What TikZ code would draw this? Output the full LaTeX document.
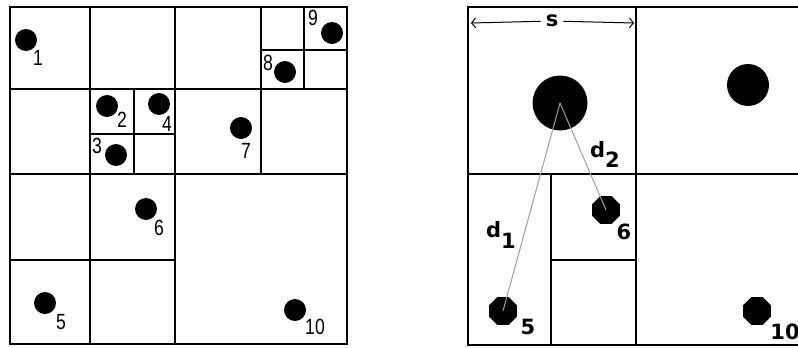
\documentclass[tikz,border=0pt]{standalone}
\usepackage{fontspec}
\usepackage{tikz}
\usetikzlibrary{positioning,arrows.meta,shapes.geometric}
\newfontfamily\numfont[FakeStretch=0.8]{Liberation Sans}
\newfontfamily\boldlblfont{DejaVu Sans}

\begin{document}
\begin{tikzpicture}[
  x=1pt, y=-1pt,
  cell/.style={line width=1.6pt, line cap=rect},
  dot/.style={circle, fill=black, inner sep=0pt, minimum size=22pt},
  bigdot/.style={circle, fill=black, inner sep=0pt},
  octdot/.style={regular polygon, regular polygon sides=8, fill=black,
                 inner sep=0pt, minimum size=30pt},
  num/.style={inner sep=0pt, font=\numfont\fontsize{22}{22}\selectfont},
  bnum/.style={inner sep=0pt, font=\boldlblfont\bfseries\fontsize{21}{21}\selectfont},
  dist/.style={draw=gray!75, line width=1pt},
  sarrow/.style={line width=1pt, arrows={-Straight Barb[length=4pt,width=10pt]}}
]
  \useasboundingbox (0,0) rectangle (798,348);

  % left: the quadtree
  \draw[cell] (10,7) rectangle (347,344);
  \draw[cell] (90,7) -- (90,344);
  \draw[cell] (175,7) -- (175,344);
  \draw[cell] (261,7) -- (261,174);
  \draw[cell] (10,89) -- (347,89);
  \draw[cell] (10,174) -- (347,174);
  \draw[cell] (10,260) -- (175,260);
  \draw[cell] (304,7) -- (304,89);
  \draw[cell] (261,50) -- (347,50);
  \draw[cell] (134,89) -- (134,174);
  \draw[cell] (90,134) -- (175,134);

  \node[dot] (p1)  at (26,40)   {};
  \node[dot] (p2)  at (107,106) {};
  \node[dot] (p3)  at (116,155) {};
  \node[dot] (p4)  at (159,104) {};
  \node[dot] (p5)  at (45,303)  {};
  \node[dot] (p6)  at (146,209) {};
  \node[dot] (p7)  at (241,128) {};
  \node[dot] (p8)  at (285,72)  {};
  \node[dot] (p9)  at (332,33)  {};
  \node[dot] (p10) at (295,310) {};

  \node[num] (l1)  at (38,58)   {1};
  \node[num] (l2)  at (122,120) {2};
  \node[num] (l3)  at (97,146)  {3};
  \node[num] (l4)  at (167,124) {4};
  \node[num] (l5)  at (61,322)  {5};
  \node[num] (l6)  at (159,228) {6};
  \node[num] (l7)  at (246,151) {7};
  \node[num] (l8)  at (268,63)  {8};
  \node[num] (l9)  at (313,18)  {9};
  \node[num] (l10) at (315,327) {10};

  % right: cell size s and distances
  \draw[cell] (798,7) -- (468,7) -- (468,345) -- (798,345);
  \draw[cell] (636,7) -- (636,345);
  \draw[cell] (468,174) -- (798,174);
  \draw[cell] (551,174) -- (551,345);
  \draw[cell] (551,260) -- (636,260);

  \coordinate (sl) at (471,23);
  \coordinate (sr) at (634,23);
  \node[bnum, fill=white, inner xsep=5pt, inner ysep=1pt] (s) at (552,21) {s};
  \draw[sarrow] (s) -- (sl);
  \draw[sarrow] (s) -- (sr);

  \node[bigdot, minimum size=55pt] (ca) at (560,103) {};
  \node[bigdot, minimum size=42pt] (cb) at (748,85)  {};
  \node[octdot] (q5)  at (503,311) {};
  \node[octdot] (q6)  at (606,210) {};
  \node[octdot] (q10) at (757,311) {};

  \draw[dist] (ca.center) -- (q5.center);
  \draw[dist] (ca.center) -- (q6.center);

  \node[bnum] (m5)  at (528,327) {5};
  \node[bnum] (m6)  at (624,232) {6};
  \node[bnum] (m10) at (785,332) {10};
  \node[bnum, anchor=base west] (d1) at (486,237) {d\raisebox{-11pt}{1}};
  \node[bnum, anchor=base west] (d2) at (590,157) {d\raisebox{-10pt}{2}};
\end{tikzpicture}
\end{document}
